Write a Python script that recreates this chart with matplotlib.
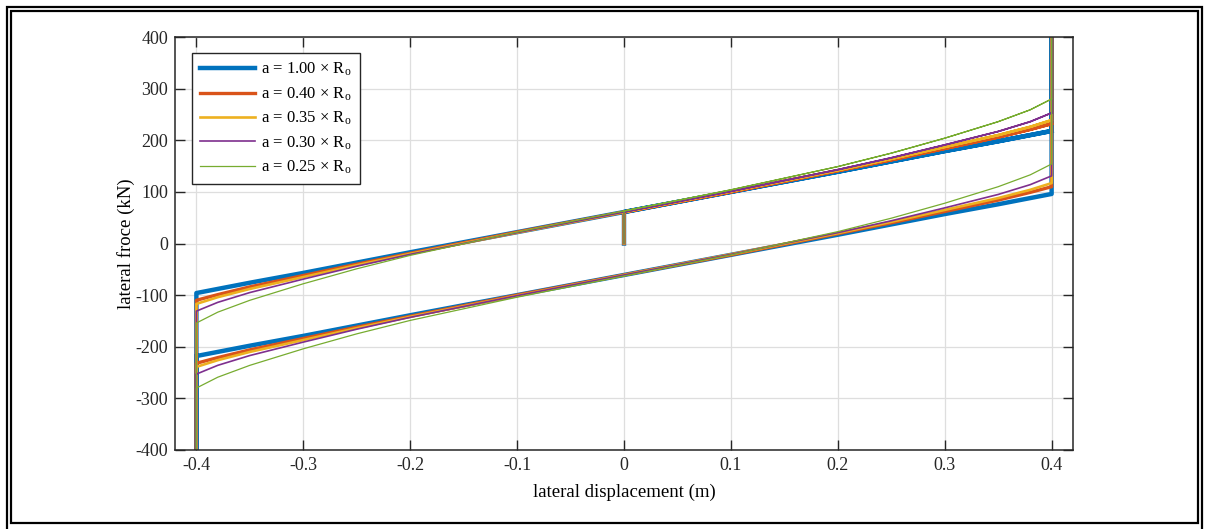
import matplotlib.pyplot as plt
from matplotlib.patches import Rectangle

plt.rcParams['font.family'] = 'Liberation Serif'
plt.rcParams['mathtext.fontset'] = 'custom'
plt.rcParams['mathtext.rm'] = 'Liberation Serif'
plt.rcParams['mathtext.it'] = 'Liberation Serif:italic'
plt.rcParams['axes.unicode_minus'] = False

ratios = ['1.00', '0.40', '0.35', '0.30', '0.25']
colors = ['#0072BD', '#D95319', '#EDB120', '#7E2F8E', '#77AC30']
widths = [3.2, 2.4, 1.9, 1.2, 0.9]

# displacement stations (m), loading branch from -0.4 to +0.4
disp_up = [-0.4, -0.38, -0.35, -0.3, -0.25, -0.2, -0.1, 0.0,
           0.1, 0.2, 0.25, 0.3, 0.35, 0.38, 0.4]
# unloading branch runs the other way
disp_down = disp_up[::-1]

# lateral force on the loading branch (kN)
force_up = [
    [-96, -88, -76, -57, -37, -17, 22, 61, 100, 139, 159, 179, 198, 210, 218],
    [-110, -99, -84, -62, -40, -19, 22, 61, 100, 141, 162, 184, 206, 221, 232],
    [-117, -104, -88, -65, -42, -20, 21, 61, 101, 142, 164, 187, 210, 226, 239],
    [-131, -114, -95, -69, -44, -21, 21, 61, 101, 143, 166, 191, 217, 236, 253],
    [-154, -133, -110, -78, -49, -23, 22, 63, 104, 149, 175, 204, 236, 259, 280],
]
# lateral force on the unloading branch (kN), from +0.4 back to -0.4
force_down = [
    [96, 88, 76, 57, 37, 17, -22, -61, -100, -139, -159, -179, -198, -210, -218],
    [110, 99, 84, 62, 40, 19, -22, -61, -100, -141, -162, -184, -206, -221, -232],
    [117, 104, 88, 65, 42, 20, -21, -61, -101, -142, -164, -187, -210, -226, -239],
    [131, 114, 95, 69, 44, 21, -21, -61, -101, -143, -166, -191, -217, -236, -253],
    [154, 133, 110, 78, 49, 23, -22, -63, -104, -149, -175, -204, -236, -259, -280],
]
# force spike at each reversal, off the plotted range
spike = 650

fig = plt.figure(figsize=(12.05, 5.29), dpi=100)
ax = fig.add_axes([175 / 1205, 1 - 450 / 529, 898 / 1205, 413 / 529])

for r, c, lw, fu, fd in zip(ratios, colors, widths, force_up, force_down):
    i0 = disp_up.index(0.0)
    x = [0.0] + disp_up[i0:] + [0.4] + disp_down + [-0.4] + disp_up
    y = [0] + fu[i0:] + [spike] + fd + [-spike] + fu
    ax.plot(x, y, color=c, lw=lw, solid_joinstyle='round',
            label='a = %s × $\\mathrm{R_o}$' % r)

ax.set_xlim(-0.42, 0.42)
ax.set_ylim(-400, 400)
ax.set_xticks([-0.4, -0.3, -0.2, -0.1, 0, 0.1, 0.2, 0.3, 0.4])
ax.set_xticklabels(['-0.4', '-0.3', '-0.2', '-0.1', '0', '0.1', '0.2', '0.3', '0.4'])
ax.set_yticks(range(-400, 401, 100))
ax.grid(True, color='#dedede', lw=0.9)
ax.set_axisbelow(True)
ax.tick_params(direction='in', length=7, width=1, top=True, right=True,
               labelsize=13, pad=5, colors='#262626')
for s in ax.spines.values():
    s.set_linewidth(1.1)
    s.set_color('#262626')

ax.set_xlabel('lateral displacement (m)', fontsize=13.5, labelpad=7)
ax.set_ylabel('lateral froce (kN)', fontsize=13.5, labelpad=0)

leg = ax.legend(loc='upper left', bbox_to_anchor=(0.019, 0.962), borderaxespad=0,
                fontsize=12, handlelength=3.3, labelspacing=0.42,
                handletextpad=0.35, borderpad=0.5, fancybox=False)
leg.get_frame().set_edgecolor('#262626')
leg.get_frame().set_linewidth(1.0)
leg.get_frame().set_alpha(1)

# double border round the whole figure
for x0, y0, x1, y1 in [(7, 7, 1202, 540), (11, 11, 1198, 523)]:
    fig.patches.append(Rectangle((x0 / 1205, 1 - y1 / 529), (x1 - x0) / 1205,
                                 (y1 - y0) / 529, transform=fig.transFigure,
                                 fill=False, ec='black', lw=1.6))

fig.savefig('out.png', dpi=100)
